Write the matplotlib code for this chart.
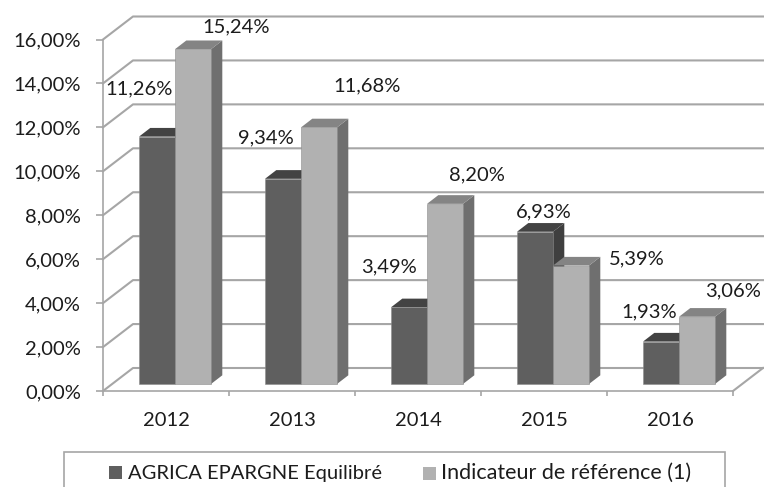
import matplotlib
matplotlib.use("Agg")
import matplotlib.pyplot as plt
from matplotlib.patches import Polygon, Rectangle

years = ["2012", "2013", "2014", "2015", "2016"]
agrica = [11.26, 9.34, 3.49, 6.93, 1.93]
indicateur = [15.24, 11.68, 8.20, 5.39, 3.06]
yticks = [0, 2, 4, 6, 8, 10, 12, 14, 16]

# label offsets from the bar top, in pixels
agrica_off = [(-18, 48), (-17, 41), (-20, 40), (9, 20), (-12, 30)]
indicateur_off = [(43, 22), (48, 42), (32, 29), (66, 7), (36, 26)]

W, H = 764, 487
LINE = "#a6a6a6"
TEXT = "#1c1c1c"
FS = 14.5

plt.rcParams["font.family"] = ["Lato", "DejaVu Sans"]

fig = plt.figure(figsize=(W / 100, H / 100), dpi=100)
ax = fig.add_axes([103 / W, (H - 391) / H, 630 / W, 351.5 / H])
ax.set_xlim(0, 5)
ax.set_ylim(0, 16)

px = 5 / 630
py = 16 / 351.5

# walls of the 3d box
wall_dx = 30 * px
wall_dy = 23 * py
for v in yticks:
    ax.plot([0, wall_dx, 5 + wall_dx], [v, v + wall_dy, v + wall_dy], color=LINE, lw=1.5, clip_on=False, zorder=1)
ax.plot([5, 5 + wall_dx], [0, wall_dy], color=LINE, lw=1.5, clip_on=False, zorder=1)


def bar3d(x0, width, value, front, top, side):
    base = 7 * py
    d_x = 11.3 * px
    d_y = 8.7 * py
    x1 = x0 + width
    y1 = base + value
    ax.add_patch(Polygon([(x1, base), (x1 + d_x, base + d_y), (x1 + d_x, y1 + d_y), (x1, y1)], fc=side, ec="none", zorder=3))
    ax.add_patch(Polygon([(x0, y1), (x0 + d_x, y1 + d_y), (x1 + d_x, y1 + d_y), (x1, y1)], fc=top, ec="none", zorder=3))
    ax.add_patch(Rectangle((x0, base), width, value, fc=front, ec="#8c8c8c", lw=0.4, zorder=3))


bar_w = 36 * px
start = 36 * px
for i in range(len(years)):
    bar3d(i + start, bar_w, agrica[i], "#5f5f5f", "#434343", "#3f3f3f")
    bar3d(i + start + bar_w, bar_w, indicateur[i], "#b1b1b1", "#848484", "#6f6f6f")

    for val, off, x in [(agrica[i], agrica_off[i], i + start + bar_w / 2),
                        (indicateur[i], indicateur_off[i], i + start + bar_w * 1.5)]:
        ax.annotate(f"{val:.2f}%".replace(".", ","), (x, val + 7 * py), xytext=off, textcoords="offset pixels",
                    ha="center", va="center", fontsize=FS, color=TEXT, zorder=5, annotation_clip=False)

# axes
for s in ["top", "right"]:
    ax.spines[s].set_visible(False)
for s in ["left", "bottom"]:
    ax.spines[s].set_color(LINE)
    ax.spines[s].set_linewidth(1.2)
ax.patch.set_visible(False)
ax.set_yticks(yticks)
ax.set_yticklabels([f"{v:.2f}%".replace(".", ",") for v in yticks], fontsize=FS, color=TEXT)
ax.set_xticks(range(6))
ax.set_xticklabels([])
ax.set_xticks([i + 0.5 for i in range(5)], years, minor=True, fontsize=FS, color=TEXT)
ax.tick_params(axis="y", length=5, width=1.2, color=LINE, pad=11)
ax.tick_params(axis="x", which="major", length=3.5, width=1.2, color=LINE)
ax.tick_params(axis="x", which="minor", length=0, pad=15)

# legend box runs off the bottom of the picture
fig.add_artist(Rectangle((64 / W, -0.1), 661 / W, 0.1 + (H - 452) / H, transform=fig.transFigure,
                         fc="white", ec=LINE, lw=1.2))
fig.add_artist(Rectangle((109 / W, (H - 479) / H), 13 / W, 13 / H, transform=fig.transFigure, fc="#5f5f5f", ec="none"))
fig.add_artist(Rectangle((423 / W, (H - 480) / H), 13 / W, 13 / H, transform=fig.transFigure, fc="#b1b1b1", ec="none"))
fig.text(128 / W, (H - 473) / H, "AGRICA EPARGNE Equilibré", fontsize=FS, color=TEXT, va="center")
fig.text(441 / W, (H - 473) / H, "Indicateur de référence (1)", fontsize=15.5, color=TEXT, va="center")

fig.savefig("out.png", dpi=100)
